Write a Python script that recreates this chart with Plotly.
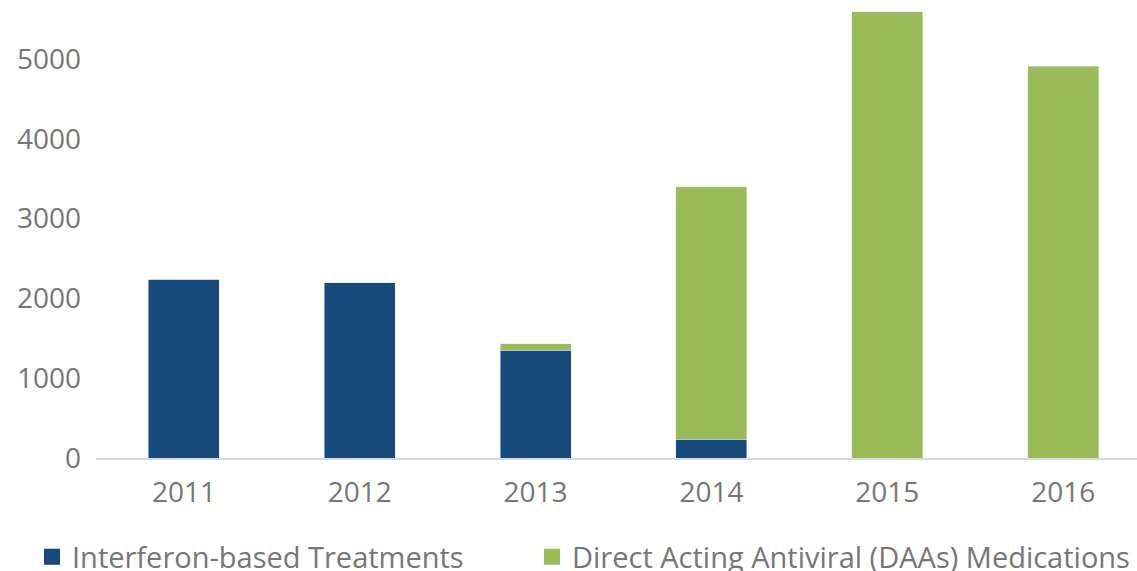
import plotly.graph_objects as go

years = ["2011", "2012", "2013", "2014", "2015", "2016"]
interferon = [2240, 2195, 1353, 234, 0, 0]
daa = [0, 0, 76, 3162, 5593, 4912]
series_names = ["Interferon-based Treatments", "Direct Acting Antiviral (DAAs) Medications"]

BLUE = "#17497A"
GREEN = "#9BBB59"
GREY = "#767676"
FONT = "Open Sans"

fig = go.Figure()
fig.add_trace(go.Bar(x=years, y=interferon, name=series_names[0],
                     marker=dict(color=BLUE), showlegend=False, legendgroup="a"))
fig.add_trace(go.Bar(x=years, y=daa, name=series_names[1],
                     marker=dict(color=GREEN), showlegend=False, legendgroup="b"))
# legend entries with larger square swatches, one legend per series
for nm, col, grp, lg in [(series_names[0], BLUE, "a", "legend"),
                         (series_names[1], GREEN, "b", "legend2")]:
    fig.add_trace(go.Scatter(x=[None], y=[None], mode="markers", name=nm, legendgroup=grp,
                             legend=lg,
                             marker=dict(symbol="square", size=19, color=col),
                             showlegend=True, hoverinfo="skip"))

legend_common = dict(orientation="h", xref="container", yref="container",
                     xanchor="left", y=(571 - 557) / 571, yanchor="middle",
                     font=dict(size=29, color=GREY), itemsizing="trace",
                     itemclick=False, bgcolor="rgba(0,0,0,0)")

fig.update_layout(
    barmode="stack",
    bargap=0.596,
    width=1137, height=571,
    margin=dict(l=96, r=0, t=0, b=113),
    plot_bgcolor="white", paper_bgcolor="white",
    font=dict(family=FONT, size=28, color=GREY),
    showlegend=True,
    legend=dict(x=32 / 1137, **legend_common),
    legend2=dict(x=532 / 1137, **legend_common),
    xaxis=dict(type="category", range=[-0.5, 5.42], showline=True, linecolor="#D9D9D9",
               linewidth=2, ticks="", showgrid=False, ticklabelstandoff=8,
               automargin=False, tickfont=dict(size=28, color=GREY)),
    yaxis=dict(range=[0, 5739], tickvals=[0, 1000, 2000, 3000, 4000, 5000],
               showgrid=False, zeroline=False, showline=False, ticks="",
               automargin=False,
               ticklabelstandoff=14, tickfont=dict(size=28, color=GREY)),
)

fig.write_html("out.html", config={"displayModeBar": False},
               post_script="document.body.style.margin='0px';document.body.style.overflow='hidden';")
